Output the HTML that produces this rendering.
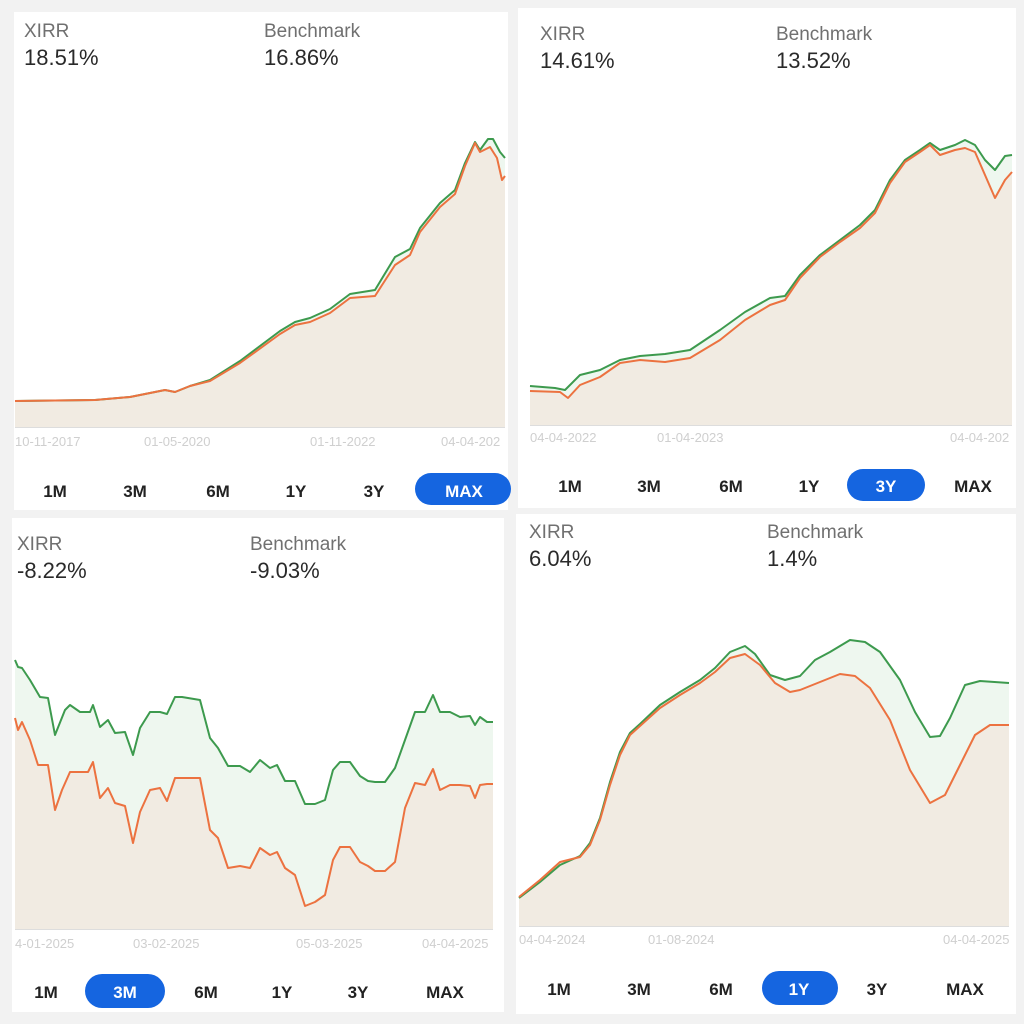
<!DOCTYPE html>
<html><head><meta charset="utf-8"><style>
html,body{margin:0;padding:0;background:#f2f2f2;}
svg{display:block;font-family:"Liberation Sans",sans-serif;}
.lbl{fill:#707070;font-size:19px;}
.val{fill:#2a2a2a;font-size:22px;}
.dt{fill:#cfcfcf;font-size:13px;}
.bt{fill:#222;font-size:17px;text-anchor:middle;font-weight:bold;}
.bw{fill:#fff;font-size:17px;text-anchor:middle;font-weight:bold;}
.g{fill:none;stroke:#3d9a4e;stroke-width:2;stroke-linejoin:round;}
.o{fill:none;stroke:#ec7240;stroke-width:2;stroke-linejoin:round;}
.ga{fill:#eef7ef;}
.oa{fill:#f1ebe2;}
</style></head><body>
<svg width="1024" height="1024" viewBox="0 0 1024 1024">
<rect width="1024" height="1024" fill="#f2f2f2"/>
<rect x="14" y="12" width="494" height="498" fill="#fff"/>
<rect x="518" y="8" width="498" height="500" fill="#fff"/>
<rect x="12" y="518" width="492" height="494" fill="#fff"/>
<rect x="516" y="514" width="500" height="500" fill="#fff"/>

<!-- Panel 1 -->
<text x="24" y="37" class="lbl">XIRR</text><text x="264" y="37" class="lbl">Benchmark</text>
<text x="24" y="65" class="val">18.51%</text><text x="264" y="65" class="val">16.86%</text>
<polygon class="ga" points="15,427 15,401 95,400 130,397 165,390 175,392 190,386 210,380 240,361 280,331 295,322 310,318 330,309 350,294 375,290 395,257 410,249 420,228 440,203 455,190 465,163 475,142 480,150 488,139 493,139 500,152 505,158 505,427"/>
<polygon class="oa" points="15,427 15,401 95,400 130,397 165,390 175,392 190,386 210,381 240,363 280,334 295,325 310,322 330,313 350,298 375,296 395,265 410,255 420,232 440,207 455,194 465,166 475,143 480,152 490,147 497,158 502,180 505,176 505,427"/>
<polyline class="g" points="15,401 95,400 130,397 165,390 175,392 190,386 210,380 240,361 280,331 295,322 310,318 330,309 350,294 375,290 395,257 410,249 420,228 440,203 455,190 465,163 475,142 480,150 488,139 493,139 500,152 505,158"/>
<polyline class="o" points="15,401 95,400 130,397 165,390 175,392 190,386 210,381 240,363 280,334 295,325 310,322 330,313 350,298 375,296 395,265 410,255 420,232 440,207 455,194 465,166 475,143 480,152 490,147 497,158 502,180 505,176"/>
<line x1="15" y1="427.5" x2="505" y2="427.5" stroke="#ddd"/>
<text x="15" y="446" class="dt">10-11-2017</text><text x="144" y="446" class="dt">01-05-2020</text><text x="310" y="446" class="dt">01-11-2022</text><text x="441" y="446" class="dt">04-04-202</text>
<rect x="415" y="473" width="96" height="32" rx="16" fill="#1565e0"/>
<text x="55" y="497" class="bt">1M</text><text x="135" y="497" class="bt">3M</text><text x="218" y="497" class="bt">6M</text><text x="296" y="497" class="bt">1Y</text><text x="374" y="497" class="bt">3Y</text><text x="464" y="497" class="bw">MAX</text>

<!-- Panel 2 -->
<text x="540" y="40" class="lbl">XIRR</text><text x="776" y="40" class="lbl">Benchmark</text>
<text x="540" y="68" class="val">14.61%</text><text x="776" y="68" class="val">13.52%</text>
<polygon class="ga" points="530,425 530,386 555,388 565,390 580,375 600,370 620,360 640,356 665,354 690,350 720,330 745,312 770,298 785,296 800,275 820,255 840,240 860,225 875,210 890,180 905,160 920,150 930,143 940,150 955,145 965,140 975,145 985,160 995,170 1005,156 1012,155 1012,425"/>
<polygon class="oa" points="530,425 530,391 560,392 568,398 580,385 600,377 620,363 640,360 665,362 690,358 720,340 745,320 770,305 785,300 800,278 820,257 840,242 860,228 875,213 890,183 905,162 920,152 930,145 940,155 955,150 965,148 975,152 985,175 995,198 1005,180 1012,172 1012,425"/>
<polyline class="g" points="530,386 555,388 565,390 580,375 600,370 620,360 640,356 665,354 690,350 720,330 745,312 770,298 785,296 800,275 820,255 840,240 860,225 875,210 890,180 905,160 920,150 930,143 940,150 955,145 965,140 975,145 985,160 995,170 1005,156 1012,155"/>
<polyline class="o" points="530,391 560,392 568,398 580,385 600,377 620,363 640,360 665,362 690,358 720,340 745,320 770,305 785,300 800,278 820,257 840,242 860,228 875,213 890,183 905,162 920,152 930,145 940,155 955,150 965,148 975,152 985,175 995,198 1005,180 1012,172"/>
<line x1="530" y1="425.5" x2="1012" y2="425.5" stroke="#ddd"/>
<text x="530" y="442" class="dt">04-04-2022</text><text x="657" y="442" class="dt">01-04-2023</text><text x="950" y="442" class="dt">04-04-202</text>
<rect x="847" y="469" width="78" height="32" rx="16" fill="#1565e0"/>
<text x="570" y="492" class="bt">1M</text><text x="649" y="492" class="bt">3M</text><text x="731" y="492" class="bt">6M</text><text x="809" y="492" class="bt">1Y</text><text x="886" y="492" class="bw">3Y</text><text x="973" y="492" class="bt">MAX</text>

<!-- Panel 3 -->
<text x="17" y="550" class="lbl">XIRR</text><text x="250" y="550" class="lbl">Benchmark</text>
<text x="17" y="578" class="val">-8.22%</text><text x="250" y="578" class="val">-9.03%</text>
<polygon class="ga" points="15,929 15,660 18,667 22,668 30,680 40,697 48,698 55,735 65,710 70,705 80,712 90,712 93,705 100,727 108,720 115,733 125,732 133,755 140,728 150,712 160,712 167,714 175,697 182,697 200,700 210,738 218,748 228,766 240,766 250,772 260,760 270,768 277,765 285,781 295,781 305,804 315,804 325,800 333,770 340,762 350,762 360,776 368,781 375,782 385,782 395,768 405,740 415,712 425,712 433,695 440,712 450,712 460,717 470,716 475,725 480,717 487,722 493,722 493,929"/>
<polygon class="oa" points="15,929 15,718 18,730 22,722 30,740 38,765 48,765 55,810 62,790 70,772 80,772 88,772 93,762 100,798 108,788 115,803 125,806 133,843 140,812 150,790 160,788 167,801 175,778 180,778 200,778 210,830 218,838 228,868 240,866 250,868 260,848 270,855 277,852 285,868 295,875 305,906 315,902 325,895 333,860 340,847 350,847 360,862 368,866 375,871 385,871 395,862 405,808 415,783 425,785 433,769 440,790 450,785 460,785 470,786 475,798 480,785 487,784 493,784 493,929"/>
<polyline class="g" points="15,660 18,667 22,668 30,680 40,697 48,698 55,735 65,710 70,705 80,712 90,712 93,705 100,727 108,720 115,733 125,732 133,755 140,728 150,712 160,712 167,714 175,697 182,697 200,700 210,738 218,748 228,766 240,766 250,772 260,760 270,768 277,765 285,781 295,781 305,804 315,804 325,800 333,770 340,762 350,762 360,776 368,781 375,782 385,782 395,768 405,740 415,712 425,712 433,695 440,712 450,712 460,717 470,716 475,725 480,717 487,722 493,722"/>
<polyline class="o" points="15,718 18,730 22,722 30,740 38,765 48,765 55,810 62,790 70,772 80,772 88,772 93,762 100,798 108,788 115,803 125,806 133,843 140,812 150,790 160,788 167,801 175,778 180,778 200,778 210,830 218,838 228,868 240,866 250,868 260,848 270,855 277,852 285,868 295,875 305,906 315,902 325,895 333,860 340,847 350,847 360,862 368,866 375,871 385,871 395,862 405,808 415,783 425,785 433,769 440,790 450,785 460,785 470,786 475,798 480,785 487,784 493,784"/>
<line x1="15" y1="929.5" x2="493" y2="929.5" stroke="#ddd"/>
<text x="15" y="948" class="dt">4-01-2025</text><text x="133" y="948" class="dt">03-02-2025</text><text x="296" y="948" class="dt">05-03-2025</text><text x="422" y="948" class="dt">04-04-2025</text>
<rect x="85" y="974" width="80" height="34" rx="17" fill="#1565e0"/>
<text x="46" y="998" class="bt">1M</text><text x="125" y="998" class="bw">3M</text><text x="206" y="998" class="bt">6M</text><text x="282" y="998" class="bt">1Y</text><text x="358" y="998" class="bt">3Y</text><text x="445" y="998" class="bt">MAX</text>

<!-- Panel 4 -->
<text x="529" y="538" class="lbl">XIRR</text><text x="767" y="538" class="lbl">Benchmark</text>
<text x="529" y="566" class="val">6.04%</text><text x="767" y="566" class="val">1.4%</text>
<polygon class="ga" points="519,926 519,898 540,882 560,865 580,856 590,843 600,818 610,782 620,752 630,733 640,724 660,705 680,692 700,680 715,668 730,652 745,646 755,654 770,675 785,680 800,676 815,660 830,652 850,640 865,642 880,652 900,680 915,712 930,737 940,736 950,718 965,685 980,681 1009,683 1009,926"/>
<polygon class="oa" points="519,926 519,897 540,880 560,862 580,857 590,845 600,820 610,785 620,755 630,735 640,726 660,708 680,695 700,683 715,672 730,658 745,654 760,665 775,683 790,692 800,690 820,682 840,674 855,676 870,688 890,720 910,770 930,803 945,795 960,765 975,735 990,725 1009,725 1009,926"/>
<polyline class="g" points="519,898 540,882 560,865 580,856 590,843 600,818 610,782 620,752 630,733 640,724 660,705 680,692 700,680 715,668 730,652 745,646 755,654 770,675 785,680 800,676 815,660 830,652 850,640 865,642 880,652 900,680 915,712 930,737 940,736 950,718 965,685 980,681 1009,683"/>
<polyline class="o" points="519,897 540,880 560,862 580,857 590,845 600,820 610,785 620,755 630,735 640,726 660,708 680,695 700,683 715,672 730,658 745,654 760,665 775,683 790,692 800,690 820,682 840,674 855,676 870,688 890,720 910,770 930,803 945,795 960,765 975,735 990,725 1009,725"/>
<line x1="519" y1="926.5" x2="1009" y2="926.5" stroke="#ddd"/>
<text x="519" y="944" class="dt">04-04-2024</text><text x="648" y="944" class="dt">01-08-2024</text><text x="943" y="944" class="dt">04-04-2025</text>
<rect x="762" y="971" width="76" height="34" rx="17" fill="#1565e0"/>
<text x="559" y="995" class="bt">1M</text><text x="639" y="995" class="bt">3M</text><text x="721" y="995" class="bt">6M</text><text x="799" y="995" class="bw">1Y</text><text x="877" y="995" class="bt">3Y</text><text x="965" y="995" class="bt">MAX</text>
</svg>
</body></html>
